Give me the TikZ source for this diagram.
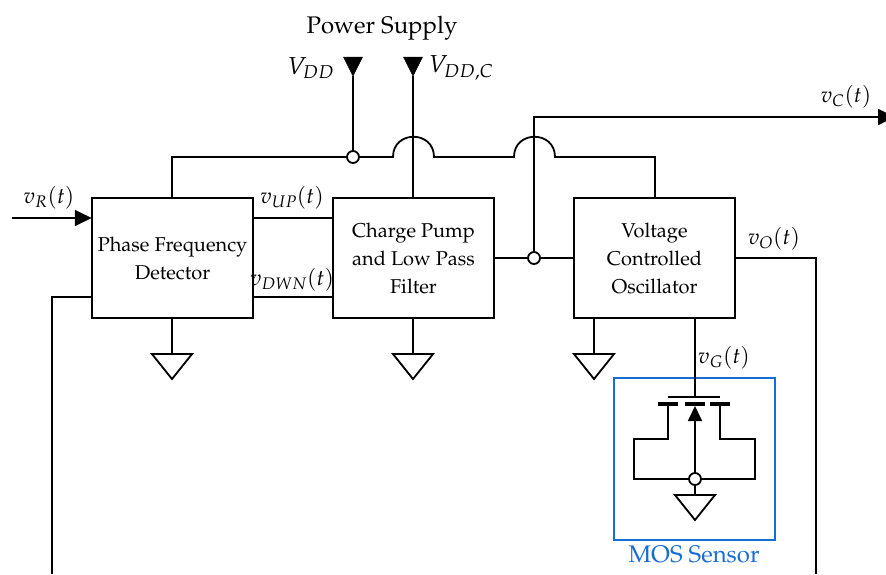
\documentclass[tikz,border=0pt]{standalone}
\usepackage[T1]{fontenc}
\usepackage{amsmath,amssymb,mathpazo}
\usetikzlibrary{arrows.meta}
\definecolor{myblue}{RGB}{22, 110, 212}
\newcommand{\toprow}{\rule{0pt}{23.6pt}}

\begin{document}
\begin{tikzpicture}[x=1pt,y=-1pt]

\tikzstyle{wire} = [line width=1.8pt, line join=miter]
\tikzstyle{block} = [draw, line width=1.8pt, minimum width=161pt, minimum height=120pt, inner sep=0, outer sep=0,
font=\fontsize{20}{28}\selectfont]
\tikzstyle{dot} = [draw, circle, fill=white, line width=1.8pt, minimum size=12pt, inner sep=0]
\tikzstyle{lab} = [anchor=center, inner sep=0, font=\fontsize{22}{26}\selectfont]
\tikzstyle{biglab} = [anchor=center, inner sep=0, font=\fontsize{24.5}{28}\selectfont]
\tikzstyle{gnd} = [line width=1.8pt, line join=miter]
\tikzstyle{pwr} = [fill=black, draw=black, line width=0.5pt]
\tikzstyle{sensor} = [draw=myblue, line width=1.8pt, minimum width=161pt, minimum height=162pt, inner sep=0, outer sep=0]
\tikzstyle{tee} = [line width=3.2pt]

\useasboundingbox (0,0) rectangle (886,574);

% blocks
\node [block] (pfd) at (172.5,258) {\begin{tabular}{c}\toprow Phase Frequency\\ Detector\end{tabular}};
\node [block] (cpf) at (413.5,258) {\begin{tabular}{c}\toprow Charge Pump\\ and Low Pass\\ Filter\end{tabular}};
\node [block] (vco) at (654.5,258) {\begin{tabular}{c}\toprow Voltage\\ Controlled\\ Oscillator\end{tabular}};
\node [sensor] (mos) at (694.5,459) {};

% free ends and corners
\coordinate (vrin) at (12,218);
\coordinate (fbl) at (52,297);
\coordinate (fbe) at (52,574);
\coordinate (ocr) at (816,258);
\coordinate (oce) at (816,574);
\coordinate (supl) at (172,157);
\coordinate (supr) at (655,157);
\coordinate (pfdtop) at (172,198);
\coordinate (vcotop) at (655,198);
\coordinate (jv) at (353,157);
\coordinate (b1l) at (393,157);
\coordinate (b1r) at (434,157);
\coordinate (b2l) at (514,157);
\coordinate (b2r) at (555,157);
\coordinate (vdd) at (353,76);
\coordinate (vddc) at (413,76);
\coordinate (cpftop) at (413,198);
\coordinate (jc) at (534,258);
\coordinate (ctop) at (534,117);
\coordinate (cend) at (895,117);
\coordinate (g1) at (172,354);
\coordinate (g2) at (413,354);
\coordinate (g3) at (594,354);
\coordinate (g4) at (695,495);
\coordinate (gate) at (695,397);
\coordinate (bulk) at (695,479);

% power rail with the two hops
\draw[wire] (pfdtop) -- (supl) -- (jv) -- (b1l) .. controls +(0,-27) and +(0,-27) .. (b1r)
 -- (b2l) .. controls +(0,-27) and +(0,-27) .. (b2r) -- (supr) -- (vcotop);
\draw[wire] (vdd) -- (jv);
\draw[wire] (vddc) -- (cpftop);
\draw[pwr] (vdd) -- ++(-9.5,-19) -- ++(19,0) -- cycle;
\draw[pwr] (vddc) -- ++(-9.5,-19) -- ++(19,0) -- cycle;

% signals
\draw[wire,-{Triangle[length=17pt,width=16pt]}] (vrin) -- (vrin -| pfd.west);
\draw[wire] ([yshift=-20pt]pfd.north east) -- ([yshift=-20pt]cpf.north west);
\draw[wire] ([yshift=21pt]pfd.south east) -- ([yshift=21pt]cpf.south west);
\draw[wire] (cpf.east) -- (vco.west);
\draw[wire,-{Triangle[length=17pt,width=16pt]}] (jc) -- (ctop) -- (cend);
\draw[wire] (fbe) -- (fbl) -- (fbl -| pfd.west);
\draw[wire] (vco.east) -- (ocr) -- (oce);

% grounds
\draw[wire] (pfd.south -| g1) -- (g1);
\draw[wire] (cpf.south -| g2) -- (g2);
\draw[wire] (vco.south -| g3) -- (g3);
\draw[wire] (bulk) -- (g4);
\foreach \g in {g1,g2,g3,g4}
  \draw[gnd] (\g) -- ++(-20,0) -- ++(20,25) -- ++(20,-25) -- cycle;

% transistor
\draw[wire] (vco.south -| gate) -- (gate);
\draw[line width=1.2pt] (668,397) -- (720,397);
\draw[tee] (658,404) -- (678,404);
\draw[tee] (685,404) -- (705,404);
\draw[tee] (710,404) -- (730,404);
\draw[wire] (668,404) -- (668,439) -- (634,439) -- (634,479) -- (755,479) -- (755,439) -- (720,439) -- (720,404);
\draw[wire,-{Triangle[length=15pt,width=14pt]}] (bulk) -- (695,406);

% dots
\node [dot] (dv) at (jv) {};
\node [dot] (dc) at (jc) {};
\node [dot] (db) at (bulk) {};

% labels
\node[lab,font=\fontsize{24}{28}\selectfont] (ps) at (382,28) {Power Supply};
\node[biglab] (lvdd) at (311,68) {$V_{DD}$};
\node[biglab] (lvddc) at (461,68) {$V_{DD,C}$};
\node[lab] (lvr) at (49,198) {$v_R(t)$};
\node[lab] (lvup) at (292,198) {$v_{UP}(t)$};
\node[lab] (lvdwn) at (292,280) {$v_{DWN}(t)$};
\node[lab] (lvo) at (774,239) {$v_O(t)$};
\node[lab] (lvc) at (846,97) {$v_C(t)$};
\node[lab] (lvg) at (724,358) {$v_G(t)$};
\node[lab,text=myblue,font=\fontsize{24}{28}\selectfont] (lmos) at (694,554) {MOS Sensor};

\end{tikzpicture}
\end{document}
